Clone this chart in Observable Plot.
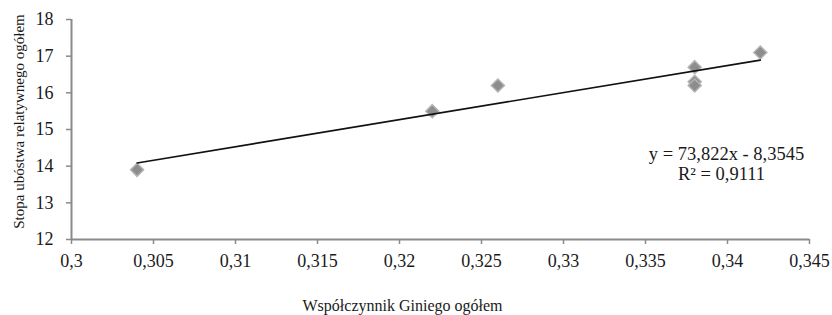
<!DOCTYPE html>
<html>
<head>
<meta charset="utf-8">
<script src="https://cdn.jsdelivr.net/npm/d3@7"></script>
<script src="https://cdn.jsdelivr.net/npm/@observablehq/plot@0.6"></script>
<style>
  html, body { margin: 0; padding: 0; background: #fff; }
  #chart { width: 832px; height: 315px; overflow: hidden; }
</style>
</head>
<body>
<div id="chart"></div>
<script>
// ---- data ----
const gini    = [0.304, 0.322, 0.326, 0.338, 0.338, 0.338, 0.342];
const poverty = [13.9, 15.5, 16.2, 16.7, 16.3, 16.2, 17.1];
const trendCoef = [73.822, -8.3545]; // slope, intercept
const equationLine = ["y = 73,822x - 8,3545"];
const rSquaredLine = ["R² = 0,9111"];
const xTicks = [0.3, 0.305, 0.31, 0.315, 0.32, 0.325, 0.33, 0.335, 0.34, 0.345];
const yTicks = [12, 13, 14, 15, 16, 17, 18];
const xTitle = "Współczynnik Giniego ogółem";
const yTitle = "Stopa ubóstwa relatywnego ogółem";

const points = gini.map((g, i) => ({x: g, y: poverty[i]}));
const xExt = d3.extent(gini);
const trend = xExt.map(x => ({x, y: trendCoef[0] * x + trendCoef[1]}));

const diamond = {
  draw(ctx, size) {
    const h = Math.sqrt(size / Math.PI);
    ctx.moveTo(0, -h); ctx.lineTo(h, 0); ctx.lineTo(0, h); ctx.lineTo(-h, 0); ctx.closePath();
  }
};

const fmt = d => String(d).replace(".", ",");
const serif = "'Liberation Serif', 'Times New Roman', serif";
const axisGrey = "#8a8a8a";
const ink = "#1a1a1a";

const chart = Plot.plot({
  width: 832,
  height: 315,
  marginLeft: 71,
  marginRight: 23,
  marginTop: 19,
  marginBottom: 76,
  style: {fontFamily: serif, fontSize: "18px", color: ink, background: "#fff"},
  x: {domain: [0.3, 0.345]},
  y: {domain: [12, 18]},
  marks: [
    Plot.ruleY([12], {stroke: axisGrey, strokeWidth: 2}),
    Plot.ruleX([0.3], {stroke: axisGrey, strokeWidth: 2}),
    Plot.axisX({ticks: xTicks, tickSize: 5, tickPadding: 10, tickFormat: fmt, stroke: axisGrey, strokeWidth: 1.5, fill: ink, label: null}),
    Plot.axisY({ticks: yTicks, tickSize: 5, tickPadding: 13, tickFormat: fmt, stroke: axisGrey, strokeWidth: 1.5, fill: ink, label: null}),
    Plot.dot(points, {x: "x", y: "y", symbol: diamond, r: 6.5, fill: "#8d8d8d", stroke: "#b3b3b3", strokeWidth: 1.5}),
    Plot.line(trend, {x: "x", y: "y", stroke: "#111", strokeWidth: 1.6}),
    Plot.text(equationLine, {
      frameAnchor: "top-left", dx: 655, dy: 134.2, textAnchor: "middle", lineAnchor: "middle",
      fontSize: 18.5, fill: ink, fontFamily: serif
    }),
    Plot.text(rSquaredLine, {
      frameAnchor: "top-left", dx: 650, dy: 154.7, textAnchor: "middle", lineAnchor: "middle",
      fontSize: 18.5, fill: ink, fontFamily: serif
    }),
    Plot.text([xTitle], {
      frameAnchor: "top-left", dx: 331, dy: 286, textAnchor: "middle", lineAnchor: "middle",
      fontSize: 16, fill: ink, fontFamily: serif
    }),
    Plot.text([yTitle], {
      frameAnchor: "left", dx: -52, dy: -8, rotate: -90, textAnchor: "middle", lineAnchor: "middle",
      fontSize: 15, fill: ink, fontFamily: serif
    })
  ]
});
document.getElementById("chart").appendChild(chart);
</script>
</body>
</html>
